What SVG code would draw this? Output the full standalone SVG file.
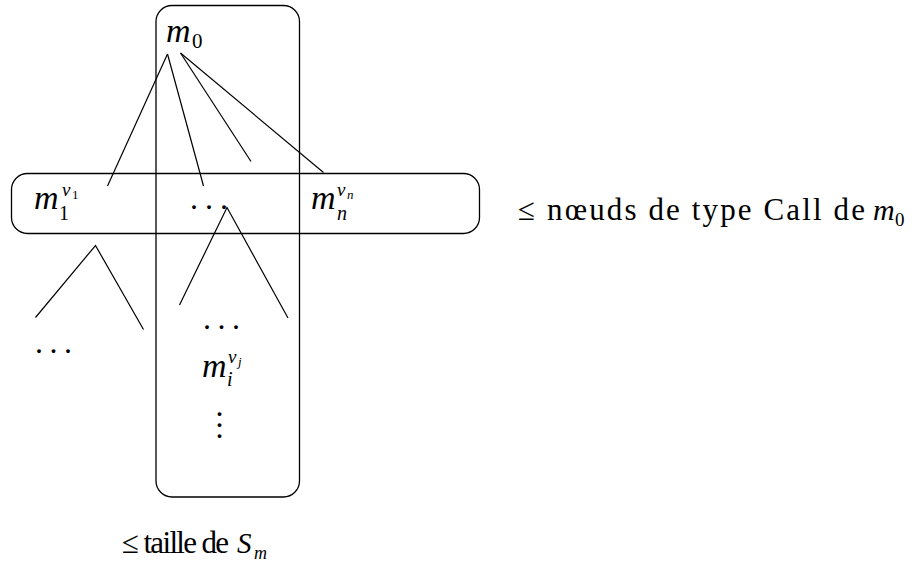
<svg xmlns="http://www.w3.org/2000/svg" width="920" height="570" viewBox="0 0 920 570">
<style>
.box{fill:none;stroke:#000;stroke-width:1.3}
.ln{fill:none;stroke:#000;stroke-width:1.2}
.t{font-family:"Liberation Serif",serif;font-size:32px;fill:#000}
.m{font-family:"Liberation Serif",serif;font-style:italic;font-size:34px;fill:#000}
.s{font-size:21px}
.sb{font-size:20px}
.sp{font-size:19px}
.r{font-style:normal}
.ss{font-size:13px}
.lab{font-family:"Liberation Serif",serif;font-size:31px;fill:#000}
</style>
<rect width="920" height="570" fill="#fff"/>
<g id="vertical-set">
<rect class="box" x="156" y="5.5" width="143.5" height="491.5" rx="16"/>
</g>
<g id="call-nodes">
<rect class="box" x="11.5" y="173.5" width="468" height="60" rx="16"/>
</g>
<g id="connectors">
<line class="ln" x1="167.5" y1="54" x2="107.5" y2="186"/>
<line class="ln" x1="167.5" y1="54" x2="203.5" y2="186"/>
<line class="ln" x1="180.5" y1="53" x2="251" y2="161.5"/>
<line class="ln" x1="180.5" y1="53" x2="323.5" y2="172.5"/>
<polyline class="ln" points="179.5,305 227,207.5 288,318"/>
<polyline class="ln" points="35.5,317.5 95.5,245.5 143.5,329.5"/>
</g>
<g id="m0">
<text class="m" x="166" y="42">m<tspan class="s r" x="192" y="48">0</tspan></text>
</g>
<g id="m1">
<text class="m" x="34" y="209">m<tspan class="sb r" x="59" y="220">1</tspan><tspan class="sp" x="62" y="196">v</tspan><tspan class="ss r" x="72" y="198.5">1</tspan></text>
</g>
<g id="mdots">
<text class="t" x="190 205 220" y="209">...</text>
</g>
<g id="mn">
<text class="m" x="311" y="209">m<tspan class="sb" x="337" y="220">n</tspan><tspan class="sp" x="337" y="196">v</tspan><tspan class="ss" x="347" y="198.5">n</tspan></text>
</g>
<g id="left-subtree">
<text class="t" x="35 49.5 64" y="353">...</text>
</g>
<g id="mi">
<text class="t" x="203 217.5 232" y="329">...</text>
<text class="m" x="202" y="377">m<tspan class="sb" x="227" y="386">i</tspan><tspan class="sp" x="228" y="363">v</tspan><tspan class="ss" x="238" y="366">j</tspan></text>
<text class="t" x="215.5 215.5 215.5" y="416 427.3 438">...</text>
</g>
<g id="label-calls">
<text class="lab" x="518" y="220"><tspan textLength="347" lengthAdjust="spacing">≤ nœuds de type Call de</tspan><tspan font-style="italic" font-size="30" x="873">m</tspan><tspan font-size="19" x="895" y="226">0</tspan></text>
</g>
<g id="label-size">
<text class="lab" x="122" y="553" font-size="28"><tspan textLength="107" lengthAdjust="spacing">≤ taille de</tspan><tspan font-style="italic" font-size="29" x="237">S</tspan><tspan font-style="italic" font-size="18" x="254" y="559">m</tspan></text>
</g>
</svg>
